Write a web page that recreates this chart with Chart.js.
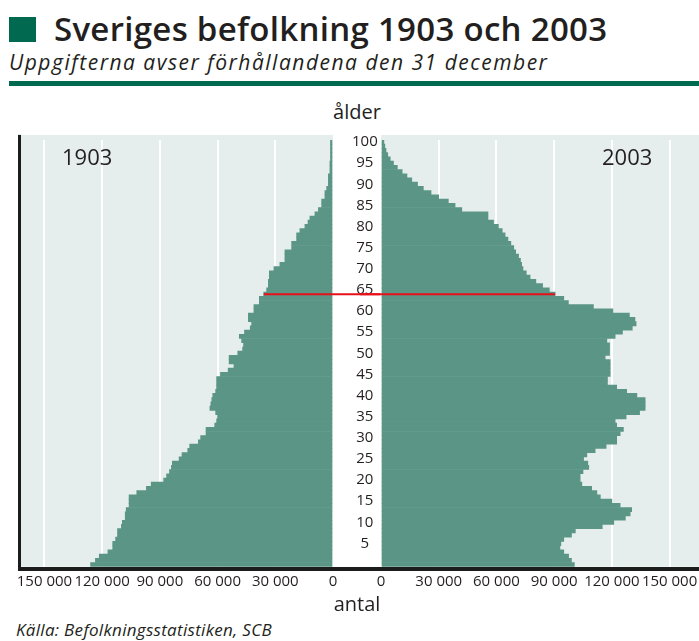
<!DOCTYPE html>
<html>
<head>
<meta charset="utf-8">
<script src="https://cdn.jsdelivr.net/npm/chart.js@4"></script>
<style>
  body { margin: 0; width: 699px; height: 641px; overflow: hidden; background: #fff;
         font-family: "Open Sans", sans-serif; color: #231f20; position: relative; }
  .abs { position: absolute; white-space: nowrap; }
  #sq { left: 9px; top: 17px; width: 27px; height: 25px; background: #00694f; }
  #title { left: 54px; top: 9px; font-size: 33px; font-weight: 600; letter-spacing: 0.3px; line-height: 40px; }
  #sub { left: 9px; top: 49px; font-size: 21px; font-style: italic; letter-spacing: 1.5px; line-height: 26px; }
  #rule { left: 9px; top: 81px; width: 690px; height: 5px; background: #00694f; }
  #alder { left: 307px; width: 100px; text-align: center; top: 99px; font-size: 20px; line-height: 26px; }
  #antal { left: 307px; width: 100px; text-align: center; top: 591px; font-size: 20px; line-height: 26px; }
  #src { left: 16px; top: 619px; font-size: 17px; font-style: italic; letter-spacing: 0.3px; line-height: 22px; }
  .yr { top: 142px; font-size: 22px; line-height: 28px; }
  #leftWrap { left: 0; top: 100px; }
  #rightWrap { left: 360px; top: 100px; }
</style>
</head>
<body>
<div class="abs" id="sq"></div>
<div class="abs" id="title">Sveriges befolkning 1903 och 2003</div>
<div class="abs" id="sub">Uppgifterna avser förhållandena den 31 december</div>
<div class="abs" id="rule"></div>
<div class="abs" id="alder">ålder</div>
<div class="abs" id="leftWrap"><canvas id="left" width="381" height="500"></canvas></div>
<div class="abs" id="rightWrap"><canvas id="right" width="360" height="500"></canvas></div>
<div class="abs yr" style="left:62px">1903</div>
<div class="abs yr" style="left:602px">2003</div>
<div class="abs" id="antal">antal</div>
<div class="abs" id="src">Källa: Befolkningsstatistiken, SCB</div>
<script>
// ages 0..100, one bar per year
const ages = Array.from({ length: 101 }, (_, i) => i);
const ageTicks = [5, 10, 15, 20, 25, 30, 35, 40, 45, 50, 55, 60, 65, 70, 75, 80, 85, 90, 95, 100];
const countTicks = [0, 30000, 60000, 90000, 120000, 150000];
const retireAge = 64;

const pop1903 = [
  126000, 123500, 121500, 117000, 114500, 114500, 113000, 112000, 112000, 110000,
  109500, 108000, 108000, 107500, 106000, 106000, 106000, 102000, 97000, 94500,
  88000, 86500, 85000, 84000, 83500, 80000, 78500, 75500, 74500, 70000,
  68800, 66000, 66000, 61500, 60500, 60000, 61000, 64000, 63500, 63000,
  62500, 61000, 60500, 60500, 60500, 58500, 54500, 51500, 54000, 54000,
  49500, 47000, 46500, 47500, 48700, 46000, 43000, 42300, 44000, 44000,
  41100, 41100, 38300, 38300, 36000, 34500, 33600, 33600, 33100, 33100,
  30700, 27600, 25000, 25000, 25000, 21500, 21500, 18900, 18900, 17200,
  14600, 13000, 12000, 9400, 7600, 5900, 5900, 4200, 4200, 3300,
  2400, 2400, 2400, 1600, 1600, 1600, 1300, 1300, 1300, 1300, 1300
];

const pop2003 = [
  100500, 99000, 97500, 95000, 93000, 93500, 95000, 99000, 101000, 115000,
  121000, 127000, 129500, 130300, 124300, 120000, 114000, 112200, 109500, 104400,
  103500, 103500, 105000, 108000, 107500, 105300, 107000, 111300, 117000, 122500,
  122500, 124300, 126000, 122500, 121700, 127400, 134400, 137300, 137300, 137300,
  133000, 127700, 122500, 117700, 117700, 119100, 119100, 119100, 119100, 116500,
  118800, 118800, 118800, 117400, 121700, 125500, 130600, 132600, 132000, 129100,
  120500, 110400, 97400, 95000, 90500, 87500, 84000, 80500, 77500, 75500,
  73800, 73100, 72500, 71500, 70000, 69000, 67500, 66000, 64500, 63000,
  61000, 58500, 55600, 55600, 42000, 38500, 35000, 30000, 26000, 22000,
  19000, 16000, 13500, 11000, 8500, 6500, 4800, 3500, 2600, 2000, 1500
];

const BAR = '#5a9585';
const BG = '#e5eeec';
const INK = '#231f20';

Chart.defaults.font.family = '"Open Sans", sans-serif';
Chart.defaults.color = INK;

function fmt(v) {
  return String(v).replace(/\B(?=(\d{3})+(?!\d))/g, ' ');
}

function xAxis(reverse, max) {
  return {
    type: 'linear',
    reverse: reverse,
    min: 0,
    max: max,
    afterBuildTicks: s => { s.ticks = countTicks.map(v => ({ value: v })); },
    afterFit: s => { s.height = 30; },
    grid: { color: '#ffffff', lineWidth: 2, drawTicks: false },
    border: { display: false },
    ticks: { autoSkip: false, maxRotation: 0, padding: 6, font: { size: 15 }, color: INK,
             callback: v => fmt(v) }
  };
}

// background panel + black axis lines + red line at retirement age
function framePlugin(side) {
  return {
    id: 'frame' + side,
    beforeDraw(chart) {
      const { ctx, chartArea: a } = chart;
      ctx.save();
      ctx.fillStyle = BG;
      ctx.fillRect(a.left, a.top - 5, a.right - a.left, a.bottom - a.top + 5);
      ctx.restore();
    },
    afterDatasetsDraw(chart) {
      const { ctx, chartArea: a } = chart;
      const y = chart.scales.y.getPixelForValue(ages.indexOf(retireAge));
      ctx.save();
      ctx.strokeStyle = '#e8101a';
      ctx.lineWidth = 2;
      ctx.beginPath();
      if (side === 'L') {
        ctx.moveTo(chart.scales.x.getPixelForValue(pop1903[retireAge]), y);
        ctx.lineTo(chart.width, y);
      } else {
        ctx.moveTo(0, y);
        ctx.lineTo(chart.scales.x.getPixelForValue(pop2003[retireAge]), y);
      }
      ctx.stroke();
      ctx.fillStyle = '#1c1c1c';
      if (side === 'L') ctx.fillRect(a.left - 2, a.top - 5, 3, a.bottom - a.top + 9);
      ctx.fillRect(side === 'L' ? a.left - 2 : 0, a.bottom + 0.3, chart.width, 4);
      ctx.restore();
    }
  };
}

new Chart(document.getElementById('left'), {
  type: 'bar',
  data: {
    labels: ages,
    datasets: [{ label: '1903', data: pop1903, backgroundColor: BAR,
                 barPercentage: 1, categoryPercentage: 1, borderWidth: 0 }]
  },
  options: {
    indexAxis: 'y',
    responsive: false,
    animation: false,
    layout: { padding: { left: 20, right: 0, top: 39.9, bottom: 3.3 } },
    plugins: { legend: { display: false }, tooltip: { enabled: false } },
    scales: {
      x: xAxis(true, 162700),
      y: {
        type: 'category',
        position: 'right',
        reverse: true,
        afterFit: s => { s.width = 48; },
        grid: { display: false },
        border: { display: false },
        ticks: {
          autoSkip: false, crossAlign: 'center', padding: 11,
          font: { size: 15 }, color: INK,
          callback: (v, i) => ageTicks.includes(ages[i]) ? String(ages[i]) : ''
        }
      }
    }
  },
  plugins: [framePlugin('L')]
});

new Chart(document.getElementById('right'), {
  type: 'bar',
  data: {
    labels: ages,
    datasets: [{ label: '2003', data: pop2003, backgroundColor: BAR,
                 barPercentage: 1, categoryPercentage: 1, borderWidth: 0 }]
  },
  options: {
    indexAxis: 'y',
    responsive: false,
    animation: false,
    layout: { padding: { left: 21, right: 0, top: 39.9, bottom: 3.3 } },
    plugins: { legend: { display: false }, tooltip: { enabled: false } },
    scales: {
      x: xAxis(false, 176200),
      y: { type: 'category', reverse: true, display: false }
    }
  },
  plugins: [framePlugin('R')]
});
</script>
</body>
</html>
